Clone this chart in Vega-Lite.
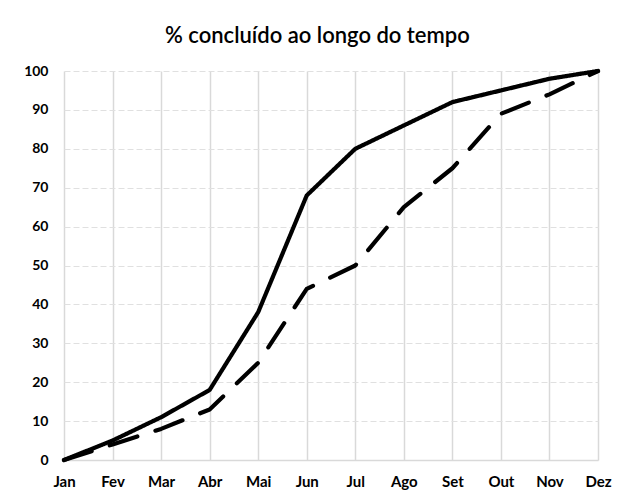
{
  "$schema": "https://vega.github.io/schema/vega-lite/v6.json",
  "width": 534,
  "height": 389,
  "autosize": "none",
  "padding": {"left": 64, "top": 71, "right": 22, "bottom": 39},
  "background": "white",
  "title": {
    "text": "% concluído ao longo do tempo",
    "font": "Lato",
    "fontSize": 22,
    "fontWeight": 600,
    "color": "#000000",
    "anchor": "middle",
    "frame": "bounds",
    "offset": 16
  },
  "data": {
    "values": [
      {"mes": "Jan", "serie": "Real", "valor": 0},
      {"mes": "Fev", "serie": "Real", "valor": 5},
      {"mes": "Mar", "serie": "Real", "valor": 11},
      {"mes": "Abr", "serie": "Real", "valor": 18},
      {"mes": "Mai", "serie": "Real", "valor": 38},
      {"mes": "Jun", "serie": "Real", "valor": 68},
      {"mes": "Jul", "serie": "Real", "valor": 80},
      {"mes": "Ago", "serie": "Real", "valor": 86},
      {"mes": "Set", "serie": "Real", "valor": 92},
      {"mes": "Out", "serie": "Real", "valor": 95},
      {"mes": "Nov", "serie": "Real", "valor": 98},
      {"mes": "Dez", "serie": "Real", "valor": 100},
      {"mes": "Jan", "serie": "Planejado", "valor": 0},
      {"mes": "Fev", "serie": "Planejado", "valor": 4},
      {"mes": "Mar", "serie": "Planejado", "valor": 8},
      {"mes": "Abr", "serie": "Planejado", "valor": 13},
      {"mes": "Mai", "serie": "Planejado", "valor": 25},
      {"mes": "Jun", "serie": "Planejado", "valor": 44},
      {"mes": "Jul", "serie": "Planejado", "valor": 50},
      {"mes": "Ago", "serie": "Planejado", "valor": 65},
      {"mes": "Set", "serie": "Planejado", "valor": 75},
      {"mes": "Out", "serie": "Planejado", "valor": 89},
      {"mes": "Nov", "serie": "Planejado", "valor": 94},
      {"mes": "Dez", "serie": "Planejado", "valor": 100}
    ]
  },
  "mark": {"type": "line", "color": "#000000", "strokeWidth": 4.2, "strokeCap": "round", "strokeJoin": "round"},
  "encoding": {
    "x": {
      "field": "mes",
      "type": "ordinal",
      "sort": ["Jan", "Fev", "Mar", "Abr", "Mai", "Jun", "Jul", "Ago", "Set", "Out", "Nov", "Dez"],
      "scale": {"type": "point", "padding": 0},
      "axis": {
        "title": null,
        "labelAngle": 0,
        "labelFont": "Lato",
        "labelFontSize": 15,
        "labelFontWeight": "bold",
        "labelColor": "#000000",
        "labelPadding": 14,
        "ticks": false,
        "domain": true,
        "domainColor": "#d9d9d9",
        "domainWidth": 1.5,
        "grid": true,
        "gridColor": "#d9d9d9",
        "gridWidth": 1.5
      }
    },
    "y": {
      "field": "valor",
      "type": "quantitative",
      "scale": {"domain": [0, 100], "nice": false},
      "axis": {
        "title": null,
        "values": [0, 10, 20, 30, 40, 50, 60, 70, 80, 90, 100],
        "labelFont": "Lato",
        "labelFontSize": 14,
        "labelFontWeight": "bold",
        "labelColor": "#000000",
        "labelPadding": 16,
        "ticks": false,
        "domain": false,
        "grid": true,
        "gridColor": "#e0e0e0",
        "gridWidth": 1,
        "gridDash": [6, 3]
      }
    },
    "strokeDash": {
      "field": "serie",
      "type": "nominal",
      "scale": {"domain": ["Real", "Planejado"], "range": [[1, 0], [29, 19]]},
      "legend": null
    }
  },
  "config": {"view": {"stroke": null}}
}
